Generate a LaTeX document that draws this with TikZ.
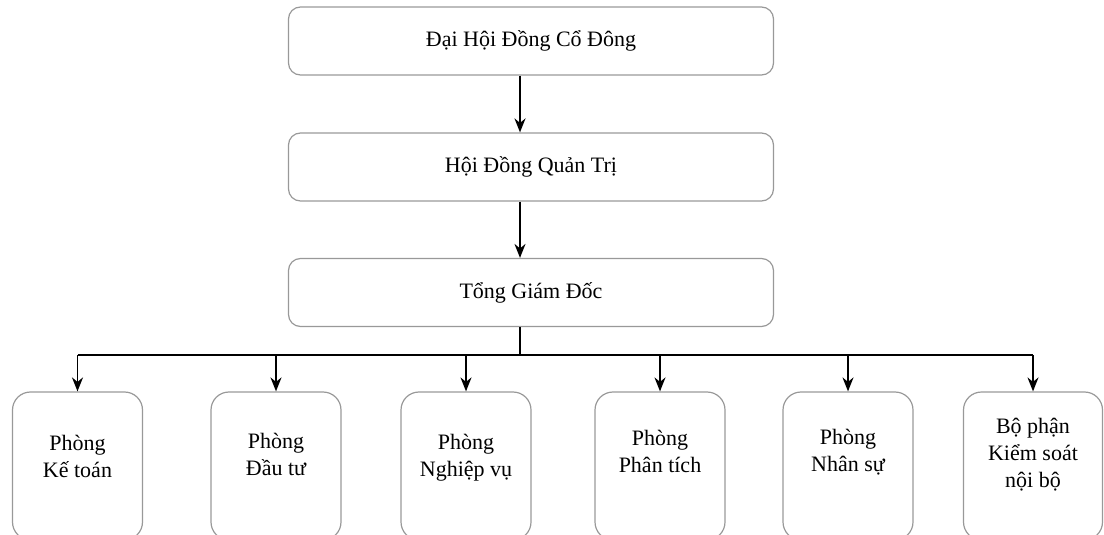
\documentclass[tikz,border=0pt]{standalone}
\usepackage{fontspec}
\setmainfont{Liberation Serif}
\usetikzlibrary{arrows.meta}
\begin{document}
\begin{tikzpicture}[x=0.5pt,y=-0.5pt,
        topbox/.style={draw=gray!80,line width=0.6pt,rounded corners=6pt,
            minimum width=242.5pt,minimum height=34pt,
            font=\fontsize{11}{13.5}\selectfont},
        dept/.style={draw=gray!80,line width=0.6pt,rounded corners=9pt,
            minimum width=65pt,minimum height=74pt},
        depttext/.style={align=center,font=\fontsize{11}{13.5}\selectfont},
        link/.style={line width=0.9pt},
        arr/.style={line width=0.9pt,-{Stealth[length=7pt,width=5.5pt]}}]
        \useasboundingbox (0,0) rectangle (1104,535);

        \node[topbox] (dhcd) at (531,41) {Đại Hội Đồng Cổ Đông};
        \node[topbox] (hdqt) at (531,167) {Hội Đồng Quản Trị};
        \node[topbox] (tgd) at (531,292.5) {Tổng Giám Đốc};

        \node[dept] (ketoan) at (77.5,466) {};
        \node[dept] (dautu) at (276,466) {};
        \node[dept] (nghiepvu) at (466,466) {};
        \node[dept] (phantich) at (660,466) {};
        \node[dept] (nhansu) at (848,466) {};
        \node[dept,minimum width=69.5pt] (kiemsoat) at (1033,466) {};

        \node[depttext] (ketoan-t) at (77.5,456) {Phòng\\Kế toán};
        \node[depttext] (dautu-t) at (276,454) {Phòng\\Đầu tư};
        \node[depttext] (nghiepvu-t) at (466,458) {Phòng\\Nghiệp vụ};
        \node[depttext] (phantich-t) at (660,451) {Phòng\\Phân tích};
        \node[depttext] (nhansu-t) at (848,452) {Phòng\\Nhân sự};
        \node[depttext] (kiemsoat-t) at (1033,455) {Bộ phận\\Kiểm soát\\nội bộ};

        \draw[arr] ([xshift=-5.5pt]dhcd.south) -- ([xshift=-5.5pt]hdqt.north);
        \draw[arr] ([xshift=-5.5pt]hdqt.south) -- ([xshift=-5.5pt]tgd.north);

        \coordinate (bus) at (520,355);
        \draw[link] ([xshift=-5.5pt]tgd.south) -- (bus);
        \draw[link] (bus -| ketoan) -- (bus -| kiemsoat);

        \draw[arr] (bus -| ketoan) -- (ketoan.north);
        \draw[arr] (bus -| dautu) -- (dautu.north);
        \draw[arr] (bus -| nghiepvu) -- (nghiepvu.north);
        \draw[arr] (bus -| phantich) -- (phantich.north);
        \draw[arr] (bus -| nhansu) -- (nhansu.north);
        \draw[arr] (bus -| kiemsoat) -- (kiemsoat.north);
    \end{tikzpicture}
\end{document}
